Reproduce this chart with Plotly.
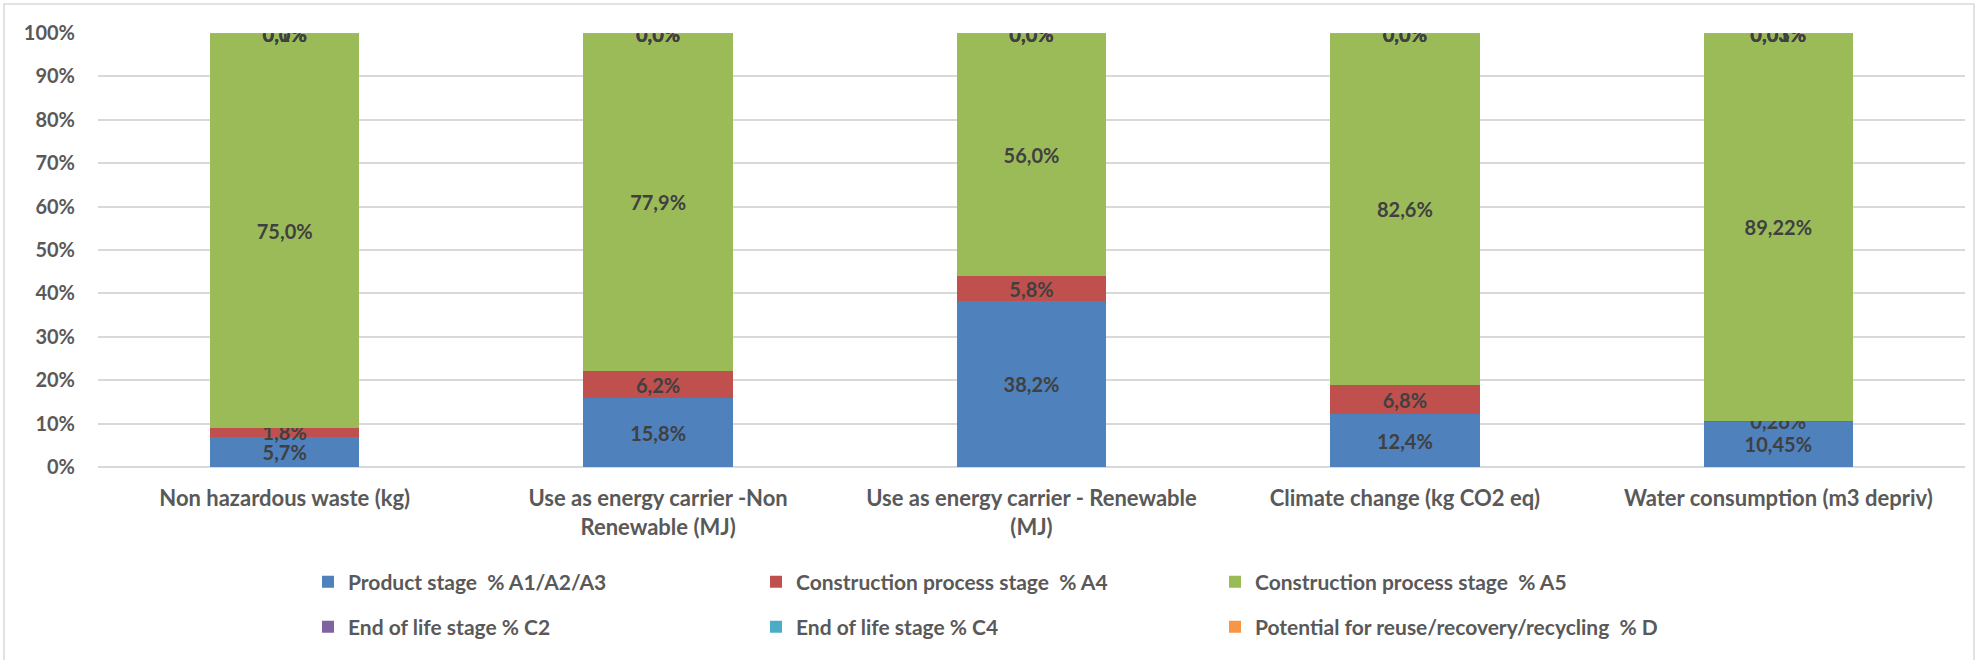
import plotly.graph_objects as go

# Impact categories (x axis)
categories = [
    "Non hazardous waste (kg)",
    "Use as energy carrier -Non<br>Renewable (MJ)",
    "Use as energy carrier - Renewable<br>(MJ)",
    "Climate change (kg CO2 eq)",
    "Water consumption (m3 depriv)",
]

# Share of each life-cycle stage, in %
product_a1_a3 = [5.7, 15.8, 38.2, 12.4, 10.45]
construction_a4 = [1.8, 6.2, 5.8, 6.8, 0.26]
construction_a5 = [75.0, 77.9, 56.0, 82.6, 89.22]
end_of_life_c2 = [0.02, 0.02, 0.02, 0.02, 0.01]
end_of_life_c4 = [0.1, 0.02, 0.02, 0.02, 0.03]
reuse_d = [0.01, 0.01, 0.01, 0.01, 0.03]

# Decimals shown on the labels of each category
label_decimals = [1, 1, 1, 1, 2]

# y axis ticks
y_ticks = list(range(0, 101, 10))
y_tick_labels = [f"{v}%" for v in y_ticks]

series = [
    ("Product stage  % A1/A2/A3", product_a1_a3, "#4F81BD"),
    ("Construction process stage  % A4", construction_a4, "#C0504D"),
    ("Construction process stage  % A5", construction_a5, "#9BBB59"),
    ("End of life stage % C2", end_of_life_c2, "#8064A2"),
    ("End of life stage % C4", end_of_life_c4, "#4BACC6"),
    ("Potential for reuse/recovery/recycling  % D", reuse_d, "#F79646"),
]

W, H = 1977, 660
PL, PR, PT, PB = 98, 12, 33, 193

# legend entry positions (pixels): three columns, two rows
legend_pos = [(322, 582), (770, 582), (1229, 582), (322, 627), (770, 627), (1229, 627)]

FONT = "Lato, 'Open Sans', sans-serif"


def fmt(v, nd):
    return f"{v:.{nd}f}".replace(".", ",") + "%"


fig = go.Figure()
layout_legends = {}
for i, (name, vals, color) in enumerate(series):
    lname = "legend" if i == 0 else f"legend{i + 1}"
    fig.add_trace(go.Bar(
        x=categories,
        y=vals,
        name=name,
        marker=dict(color=color, line=dict(width=0)),
        text=[fmt(v, nd) for v, nd in zip(vals, label_decimals)],
        textposition="inside",
        insidetextanchor="middle",
        textangle=0,
        constraintext="none",
        textfont=dict(family=FONT, size=20, color="#404040", weight="bold"),
        legend=lname,
        hoverinfo="skip",
    ))
    px, py = legend_pos[i]
    layout_legends[lname] = dict(
        xref="container", yref="container",
        x=(px - 14) / W, y=1 - py / H,
        xanchor="left", yanchor="middle",
        orientation="h",
        bgcolor="rgba(0,0,0,0)", borderwidth=0,
        font=dict(family=FONT, size=21, color="#595959", weight="bold"),
    )

fig.update_layout(
    width=W, height=H,
    margin=dict(l=PL, r=PR, t=PT, b=PB, autoexpand=False),
    barmode="stack",
    barnorm="percent",
    bargap=0.6,
    plot_bgcolor="white",
    paper_bgcolor="white",
    font=dict(family=FONT, color="#595959"),
    showlegend=True,
    **layout_legends,
)

fig.update_xaxes(
    showgrid=False,
    showline=False,
    ticks="",
    tickangle=0,
    tickfont=dict(family=FONT, size=22, color="#595959", weight="bold"),
    ticklabelstandoff=16,
)
fig.update_yaxes(
    range=[0, 100],
    tickmode="array",
    tickvals=y_ticks,
    ticktext=y_tick_labels,
    showgrid=True,
    gridcolor="#D9D9D9",
    gridwidth=1.5,
    zeroline=True,
    zerolinecolor="#D9D9D9",
    zerolinewidth=1.5,
    showline=False,
    ticks="",
    tickfont=dict(family=FONT, size=20, color="#595959", weight="bold"),
    ticklabelstandoff=22,
)

# outer chart frame
plot_w = W - PL - PR
plot_h = H - PT - PB
fig.add_shape(
    type="rect", xref="paper", yref="paper",
    x0=(4 - PL) / plot_w, x1=(1974 - PL) / plot_w,
    y0=(H - PB - 670) / plot_h, y1=(H - PB - 4) / plot_h,
    line=dict(color="#D9D9D9", width=1.5),
    fillcolor="rgba(0,0,0,0)",
    layer="below",
)

fig.write_html("out.html")
